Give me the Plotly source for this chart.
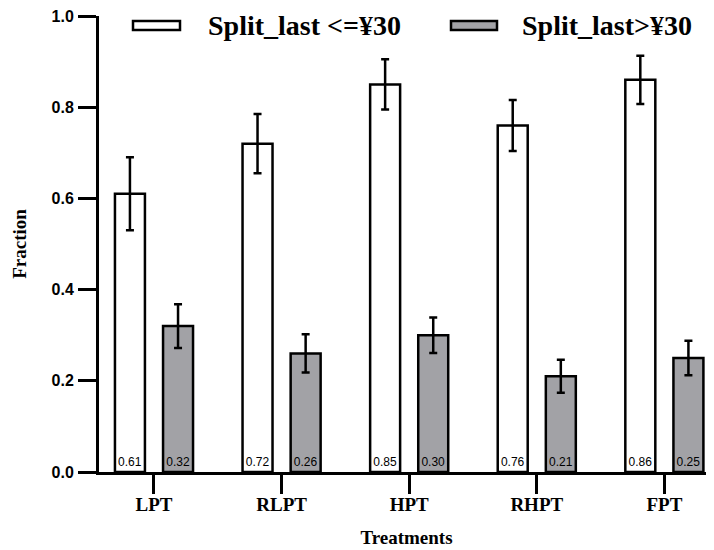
import plotly.graph_objects as go

treatments = ["LPT", "RLPT", "HPT", "RHPT", "FPT"]
low_split = [0.61, 0.72, 0.85, 0.76, 0.86]
low_err = [0.080, 0.065, 0.055, 0.056, 0.053]
high_split = [0.32, 0.26, 0.30, 0.21, 0.25]
high_err = [0.048, 0.042, 0.039, 0.036, 0.038]
series_names = ["Split_last <=¥30", "Split_last>¥30"]
y_ticks = [0.0, 0.2, 0.4, 0.6, 0.8, 1.0]

# page has an 8px body margin; figure sized to fill the rest of the window
OFF = 8
W, H = 714 - OFF, 550 - OFF
L, R, T, B = 91, 0, 8, 78
pw, ph = W - L - R, H - T - B

xpos = list(range(len(treatments)))
bar_w = 0.235

fig = go.Figure()
fig.add_trace(go.Bar(
    x=xpos, y=low_split, name=series_names[0], width=bar_w, offset=-0.306,
    marker=dict(color="white", line=dict(color="black", width=2.5)),
    error_y=dict(type="data", array=low_err, color="black", thickness=2.5, width=4),
    text=[f"{v:.2f}" for v in low_split], textposition="inside",
    insidetextanchor="start", constraintext="none",
    textfont=dict(family="Liberation Sans, Arial", size=12, color="black"),
    textangle=0, showlegend=False,
))
fig.add_trace(go.Bar(
    x=xpos, y=high_split, name=series_names[1], width=bar_w, offset=0.071,
    marker=dict(color="#a2a2a6", line=dict(color="black", width=2.5)),
    error_y=dict(type="data", array=high_err, color="black", thickness=2.5, width=4),
    text=[f"{v:.2f}" for v in high_split], textposition="inside",
    insidetextanchor="start", constraintext="none",
    textfont=dict(family="Liberation Sans, Arial", size=12, color="black"),
    textangle=0, showlegend=False,
))

def px_x(p):  # page pixel -> paper
    return (p - OFF - L) / pw

def px_y(p):
    return (H - B - (p - OFF)) / ph

serif = "Liberation Serif, Times New Roman, serif"
shapes = []
annotations = []
legend_items = [
    (133, 180, 206, "white", series_names[0]),
    (451, 497, 520, "#a2a2a6", series_names[1]),
]
for x0, x1, tx, col, name in legend_items:
    shapes.append(dict(type="rect", xref="paper", yref="paper",
                       x0=px_x(x0), x1=px_x(x1), y0=px_y(30), y1=px_y(21),
                       fillcolor=col, line=dict(color="black", width=2.5)))
    annotations.append(dict(xref="paper", yref="paper", x=px_x(tx), y=px_y(26),
                            xanchor="left", yanchor="middle", showarrow=False,
                            text=f"<b>{name}</b>",
                            font=dict(family=serif, size=28, color="black")))

fig.update_layout(
    width=W, height=H,
    margin=dict(l=L, r=R, t=T, b=B, pad=0),
    paper_bgcolor="white", plot_bgcolor="white",
    barmode="overlay",
    shapes=shapes, annotations=annotations,
    xaxis=dict(
        range=[-0.431, 4.389], tickmode="array", tickvals=xpos,
        ticktext=[f"<b>{t}</b>" for t in treatments],
        tickfont=dict(family=serif, size=19, color="black"),
        showline=True, linecolor="black", linewidth=3,
        ticks="outside", ticklen=19, tickwidth=3, tickcolor="black",
        ticklabelstandoff=-6,
        showgrid=False, zeroline=False,
        title=dict(text="<b>Treatments</b>", font=dict(family=serif, size=19, color="black"), standoff=17),
    ),
    yaxis=dict(
        range=[0, 1], tickmode="array", tickvals=y_ticks,
        ticktext=[f"<b>{v:.1f}</b>" for v in y_ticks],
        tickfont=dict(family="Liberation Sans, Arial", size=16, color="black"),
        ticklabeloverflow="allow",
        showline=True, linecolor="black", linewidth=3,
        ticks="outside", ticklen=18, tickwidth=3, tickcolor="black",
        ticklabelstandoff=1,
        showgrid=False, zeroline=False,
        title=dict(text="<b>Fraction</b>", font=dict(family=serif, size=19, color="black"), standoff=20),
    ),
)

fig.write_html("out.html")
